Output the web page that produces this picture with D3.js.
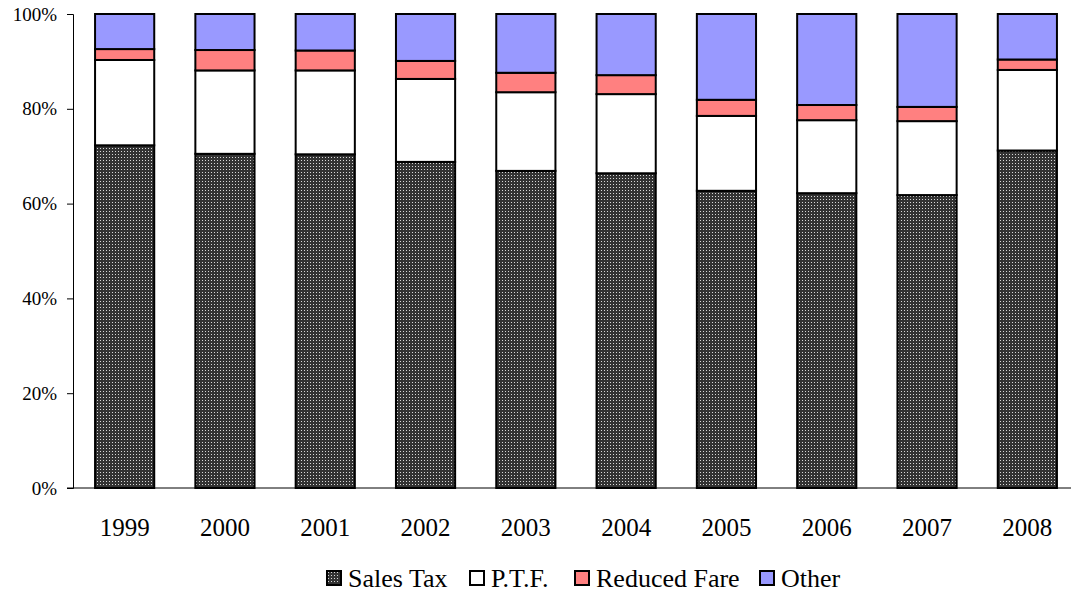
<!DOCTYPE html>
<html>
<head>
<meta charset="utf-8">
<script src="https://cdn.jsdelivr.net/npm/d3@7/dist/d3.min.js"></script>
<style>
  body { margin: 0; background: #fff; }
  text { font-family: "Liberation Serif", "Times New Roman", serif; fill: #000; }
</style>
</head>
<body>
<div id="chart"></div>
<script>
  // data (percent of total)
  var years = ['1999', '2000', '2001', '2002', '2003', '2004', '2005', '2006', '2007', '2008'];
  var salesTax    = [72.3, 70.5, 70.4, 68.8, 66.9, 66.4, 62.7, 62.2, 61.8, 71.2];
  var ptf         = [18.0, 17.6, 17.7, 17.5, 16.6, 16.7, 15.8, 15.4, 15.6, 17.0];
  var reducedFare = [2.3, 4.3, 4.2, 3.8, 4.1, 4.0, 3.4, 3.2, 3.0, 2.2];
  var other       = [7.4, 7.6, 7.7, 9.9, 12.4, 12.9, 18.1, 19.2, 19.6, 9.6];
  var seriesNames = ['Sales Tax', 'P.T.F.', 'Reduced Fare', 'Other'];
  var yTicks = [0, 0.2, 0.4, 0.6, 0.8, 1];

  var width = 1071,
      height = 595,
      plotLeft = 73,
      plotTop = 14,
      plotBottom = 488;

  var svg = d3.select('#chart').append('svg')
      .attr('width', width)
      .attr('height', height);

  // dotted fill for sales tax
  var pat = svg.append('defs').append('pattern')
      .attr('id', 'dots')
      .attr('patternUnits', 'userSpaceOnUse')
      .attr('width', 3)
      .attr('height', 3);
  pat.append('rect').attr('width', 3).attr('height', 3).attr('fill', '#333');
  pat.append('rect').attr('x', 1).attr('y', 1).attr('width', 1).attr('height', 1).attr('fill', '#d8d8d8');

  var fills = ['url(#dots)', '#ffffff', '#ff8080', '#9999ff'];

  var rows = years.map(function(y, i) {
    var total = salesTax[i] + ptf[i] + reducedFare[i] + other[i];
    return {
      year: y,
      'Sales Tax': salesTax[i] / total,
      'P.T.F.': ptf[i] / total,
      'Reduced Fare': reducedFare[i] / total,
      'Other': other[i] / total
    };
  });

  var layers = d3.stack().keys(seriesNames)(rows);

  var x = d3.scaleBand()
      .domain(years)
      .range([plotLeft + 2, plotLeft + 1004])
      .paddingInner(0.41)
      .paddingOuter(0.2);

  var y = d3.scaleLinear()
      .domain([0, 1])
      .range([plotBottom, plotTop]);

  var g = svg.selectAll('.layer')
      .data(layers)
    .enter().append('g')
      .attr('class', 'layer')
      .attr('fill', function(d, i) { return fills[i]; });

  g.selectAll('rect')
      .data(function(d) { return d; })
    .enter().append('rect')
      .attr('x', function(d) { return x(d.data.year); })
      .attr('y', function(d) { return y(d[1]); })
      .attr('width', x.bandwidth())
      .attr('height', function(d) { return y(d[0]) - y(d[1]); })
      .attr('stroke', '#000')
      .attr('stroke-width', 2);

  // y axis
  var yAxis = svg.append('g')
      .attr('transform', 'translate(' + plotLeft + ',0)')
      .call(d3.axisLeft(y).tickValues(yTicks).tickFormat(d3.format('.0%')).tickSize(6).tickPadding(10));
  yAxis.selectAll('text').style('font-size', '19px');
  yAxis.selectAll('line, path').attr('stroke', '#000');

  // x axis line
  svg.append('line')
      .attr('x1', plotLeft - 6)
      .attr('x2', width)
      .attr('y1', plotBottom)
      .attr('y2', plotBottom)
      .attr('stroke', '#000');

  svg.selectAll('.year')
      .data(years)
    .enter().append('text')
      .attr('class', 'year')
      .attr('x', function(d) { return x(d) + x.bandwidth() / 2; })
      .attr('y', 536)
      .attr('text-anchor', 'middle')
      .style('font-size', '25px')
      .text(function(d) { return d; });

  // legend
  var legendX = [327, 470, 575, 760];
  var legend = svg.selectAll('.legend')
      .data(seriesNames)
    .enter().append('g')
      .attr('class', 'legend')
      .attr('transform', function(d, i) { return 'translate(' + legendX[i] + ',571)'; });

  legend.append('rect')
      .attr('width', 14)
      .attr('height', 14)
      .attr('fill', function(d, i) { return fills[i]; })
      .attr('stroke', '#000')
      .attr('stroke-width', 2);

  legend.append('text')
      .attr('x', 21)
      .attr('y', 16)
      .style('font-size', '26px')
      .text(function(d) { return d; });
</script>
</body>
</html>
